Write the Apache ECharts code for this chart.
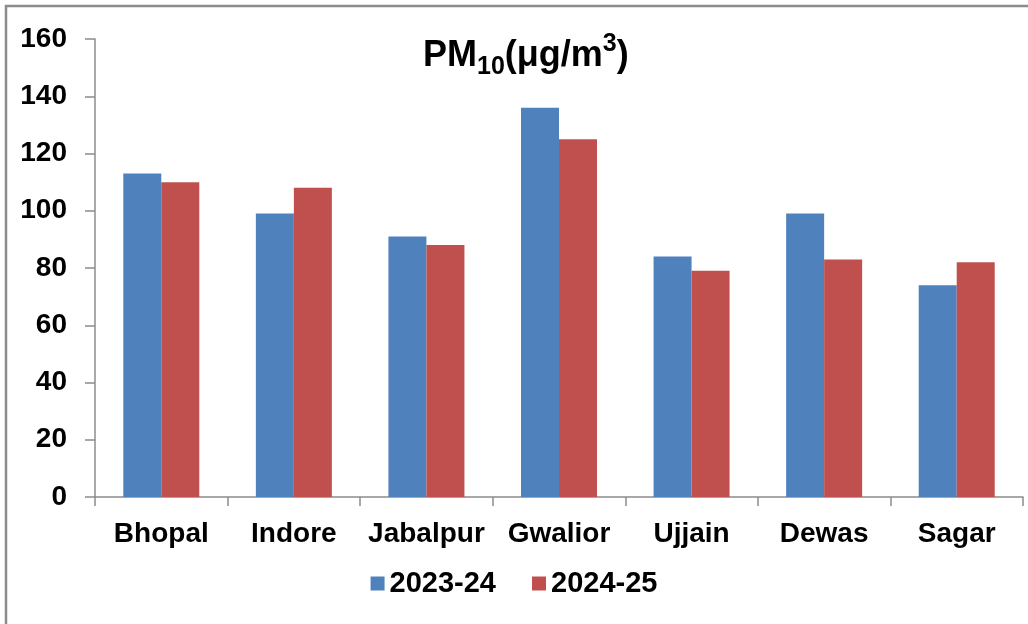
<!DOCTYPE html>
<html lang="en">
<head>
    <meta charset="utf-8">
    <script type="text/javascript" src="https://cdn.jsdelivr.net/npm/echarts@6/dist/echarts.min.js"></script>
</head>
<body style="height: 100%; margin: 0">
<div id="container" style="width:1028px;height:624px"></div>

<script type="text/javascript">
    var cities = ['Bhopal', 'Indore', 'Jabalpur', 'Gwalior', 'Ujjain', 'Dewas', 'Sagar'];
    var pm2324 = [113, 99, 91, 136, 84, 99, 74];
    var pm2425 = [110, 108, 88, 125, 79, 83, 82];
    var yTicks = { min: 0, max: 160, interval: 20 };

    var font = '"Liberation Sans", Arial, sans-serif';
    var axisGray = '#8c8c8c';

    var myChart = echarts.init(document.getElementById('container'));

    var option = {
        animation: false,
        textStyle: { fontFamily: font },
        title: {
            left: 418,
            top: 27,
            text: '{a|PM}{b|10}{a|(μg/m}{c|3}{a|)}',
            textStyle: {
                rich: {
                    a: { fontSize: 36, fontWeight: 'bold', color: '#000', fontFamily: font, lineHeight: 48, verticalAlign: 'middle' },
                    b: { fontSize: 25, fontWeight: 'bold', color: '#000', fontFamily: font, lineHeight: 48, verticalAlign: 'bottom' },
                    c: { fontSize: 25, fontWeight: 'bold', color: '#000', fontFamily: font, lineHeight: 48, verticalAlign: 'top' }
                }
            }
        },
        legend: {
            bottom: 21,
            left: 'center',
            itemWidth: 14,
            itemHeight: 14,
            itemGap: 36,
            icon: 'rect',
            textStyle: { fontSize: 29, fontWeight: 'bold', color: '#000', fontFamily: font },
            data: ['2023-24', '2024-25']
        },
        grid: { left: 95, right: 5, top: 39, bottom: 127, containLabel: false },
        xAxis: {
            type: 'category',
            data: cities,
            axisLine: { lineStyle: { color: axisGray, width: 1.5 } },
            axisTick: { show: true, length: 9, lineStyle: { color: axisGray, width: 1.5 } },
            axisLabel: { interval: 0, fontSize: 28, fontWeight: 'bold', color: '#000', margin: 23, fontFamily: font }
        },
        yAxis: {
            type: 'value',
            min: yTicks.min,
            max: yTicks.max,
            interval: yTicks.interval,
            axisLine: { show: true, lineStyle: { color: axisGray, width: 1.5 } },
            axisTick: { show: true, length: 10, lineStyle: { color: axisGray, width: 1.5 } },
            splitLine: { show: false },
            axisLabel: { fontSize: 28, fontWeight: 'bold', color: '#000', margin: 28, fontFamily: font }
        },
        graphic: [{
            type: 'rect',
            shape: { x: 6, y: 6, width: 1200, height: 800 },
            style: { fill: 'none', stroke: '#8c8c8c', lineWidth: 2.5 },
            silent: true
        }],
        series: [
            {
                name: '2023-24',
                type: 'bar',
                data: pm2324,
                barWidth: 38,
                barGap: '0%',
                itemStyle: { color: '#4F81BD' }
            },
            {
                name: '2024-25',
                type: 'bar',
                data: pm2425,
                barWidth: 38,
                itemStyle: { color: '#C0504D' }
            }
        ]
    };

    myChart.setOption(option);
</script>
</body>
</html>
